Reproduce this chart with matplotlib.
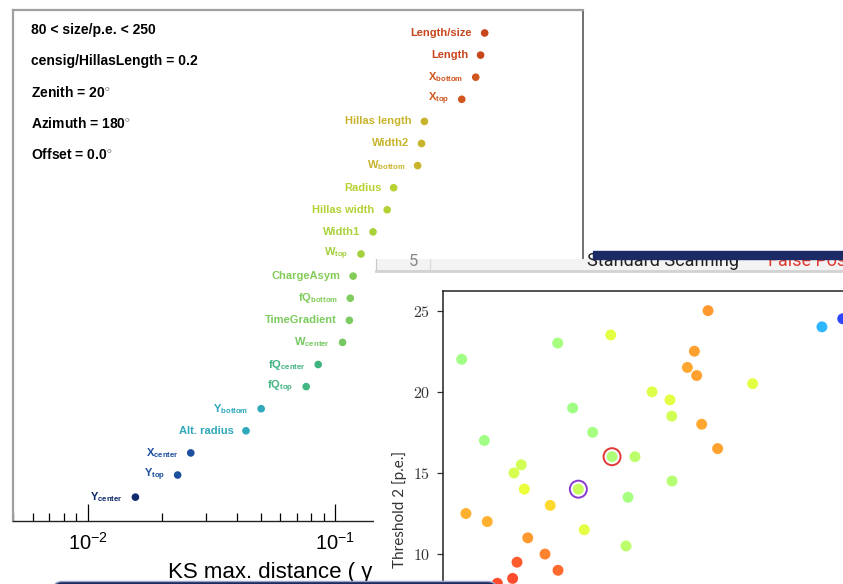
import matplotlib
matplotlib.use('Agg')
import matplotlib.pyplot as plt
from matplotlib.patches import FancyBboxPatch, Rectangle
from matplotlib.transforms import IdentityTransform
from matplotlib.ticker import NullFormatter

plt.rcParams['font.family'] = ['Liberation Sans', 'DejaVu Sans']
plt.rcParams['mathtext.fontset'] = 'custom'
plt.rcParams['mathtext.rm'] = 'Liberation Sans'
plt.rcParams['mathtext.bf'] = 'Liberation Sans:bold'
plt.rcParams['mathtext.default'] = 'rm'

# left panel: KS max distance per image parameter
params = ['Length/size', 'Length', r'X$_{\mathbf{bottom}}$', r'X$_{\mathbf{top}}$',
          'Hillas length', 'Width2', r'W$_{\mathbf{bottom}}$', 'Radius',
          'Hillas width', 'Width1', r'W$_{\mathbf{top}}$', 'ChargeAsym',
          r'fQ$_{\mathbf{bottom}}$', 'TimeGradient', r'W$_{\mathbf{center}}$',
          r'fQ$_{\mathbf{center}}$', r'fQ$_{\mathbf{top}}$', r'Y$_{\mathbf{bottom}}$',
          'Alt. radius', r'X$_{\mathbf{center}}$', r'Y$_{\mathbf{top}}$', r'Y$_{\mathbf{center}}$']
ks_dist = [0.401, 0.386, 0.369, 0.324, 0.229, 0.223, 0.215, 0.172, 0.162, 0.142, 0.127,
           0.118, 0.115, 0.114, 0.107, 0.0853, 0.0763, 0.0502, 0.0436, 0.0261, 0.0231, 0.0156]
param_colors = ['#c8461c', '#c8461c', '#d0561e', '#d0561e',
                '#c8b42a', '#c8b42a', '#c8b42a',
                '#b6d232', '#b2d234', '#aad23a', '#a4d03e',
                '#84cc58', '#80cc5c', '#7ccb5e', '#76c862',
                '#40b480', '#44b684',
                '#2ea8ba', '#2ea8ba',
                '#1c4f9e', '#1c4f9e', '#0e2a6c']
cuts = ['80 < size/p.e. < 250', 'censig/HillasLength = 0.2', r'Zenith = 20$^{\circ}$',
        r'Azimuth = 180$^{\circ}$', r'Offset = 0.0$^{\circ}$']
xticks_main = [0.01, 0.1]
xticklabels_main = [r'$10^{-2}$', r'$10^{-1}$']

# right panel: threshold scan
thr1 = [5.15, 6.54, 11.05, 14.31, 20.29, 19.45, 19.02, 19.59, 23.03, 16.85, 17.95, 18.06,
        19.90, 20.88, 11.97, 13.20, 14.39, 15.80, 18.08, 8.81, 8.36, 9.00, 12.32, 15.37,
        10.59, 5.41, 6.72, 12.68, 9.21, 10.27, 15.25, 8.55, 11.07, 8.28, 7.34, 27.29, 28.57]
thr2 = [22.0, 17.0, 23.0, 23.5, 25.0, 22.5, 21.5, 21.0, 20.5, 20.0, 19.5, 18.5,
        18.0, 16.5, 19.0, 17.5, 16.0, 16.0, 14.5, 15.5, 15.0, 14.0, 14.0, 13.5,
        13.0, 12.5, 12.0, 11.5, 11.0, 10.0, 10.5, 9.5, 9.0, 8.5, 8.2, 24.0, 24.5]
score = [0.52, 0.52, 0.53, 0.62, 0.77, 0.76, 0.75, 0.76, 0.62, 0.61, 0.62, 0.59,
         0.75, 0.76, 0.52, 0.53, 0.54, 0.56, 0.55, 0.59, 0.60, 0.63, 0.58, 0.53,
         0.69, 0.74, 0.74, 0.62, 0.77, 0.80, 0.56, 0.85, 0.83, 0.87, 0.87, 0.29, 0.155]
ring_red = 16
ring_purple = 22
yticks_thr = [10, 15, 20, 25]

W, H = 843, 584
fig = plt.figure(figsize=(W / 100, H / 100), dpi=100)

# ---- main KS chart
ax = fig.add_axes([13 / W, 1 - 521 / H, 570 / W, 511 / H])
ax.scatter(ks_dist, range(len(ks_dist)), s=20, c=param_colors, zorder=3)
for i, (name, v, col) in enumerate(zip(params, ks_dist, param_colors)):
    ax.annotate(name, (v, i), xytext=(-9, 0), textcoords='offset points',
                ha='right', va='center', fontsize=8, fontweight='bold', color=col)
ax.set_xscale('log')
ax.set_xlim(0.005, 1.0)
ax.set_ylim(len(ks_dist) - 1 + 1.08, -1.04)
ax.set_yticks([])
ax.set_xticks(xticks_main, labels=xticklabels_main, fontsize=14.5)
ax.xaxis.set_minor_formatter(NullFormatter())
ax.tick_params(axis='x', which='major', direction='in', length=12, width=0.9, pad=8)
ax.tick_params(axis='x', which='minor', direction='in', length=6, width=0.9)
for s in ['top', 'left']:
    ax.spines[s].set_color('#a0a0a0')
    ax.spines[s].set_linewidth(1.6)
ax.spines['right'].set_color('#707070')
ax.spines['right'].set_linewidth(1.4)
ax.spines['bottom'].set_color('#222222')
ax.spines['bottom'].set_linewidth(1.0)
for k, line in enumerate(cuts):
    ax.text(0.0316, 0.953 - k * 0.0612, line, transform=ax.transAxes,
            fontsize=10, fontweight='bold', va='baseline', ha='left')
ax.text(168 / W, 1 - 578 / H, 'KS max. distance ( γ - hadron )', transform=fig.transFigure,
        fontsize=16, ha='left', va='baseline', clip_on=False)

# ---- white screenshot overlay
ov = fig.add_axes([374 / W, 0, (W - 374) / W, (H - 259) / H], zorder=5)
ov.set_facecolor('white')
ov.set_xticks([])
ov.set_yticks([])
for s in ov.spines.values():
    s.set_visible(False)

# table strip (text cut by the strip edges)
st = fig.add_axes([376 / W, 1 - 271 / H, (W - 376) / W, 12 / H], zorder=6)
st.set_facecolor('#f3f3f3')
st.set_xlim(0, W - 376)
st.set_ylim(12, 0)
st.set_xticks([])
st.set_yticks([])
st.spines['top'].set_visible(False)
st.spines['right'].set_visible(False)
st.spines['left'].set_color('#c8c8c8')
st.spines['bottom'].set_color('#d2d2d2')
st.spines['bottom'].set_linewidth(2)
st.axvline(54, color='#dcdcdc', lw=1)
strip_texts = [
    st.text(37, 7.5, '5', fontsize=12, color='#888888', family='Roboto', va='baseline', ha='center'),
    st.text(211, 7.5, 'Standard Scanning', fontsize=13, color='#202020', family='Roboto', va='baseline'),
    st.text(392, 7.5, 'False Positives', fontsize=13, color='#e03a30', family='Roboto', va='baseline'),
]
for t in strip_texts:
    t.set_clip_path(st.patch)
fig.add_artist(Rectangle((593 / W, 1 - 258.7 / H), (W - 593) / W, 7.7 / H,
                         transform=fig.transFigure, color='#1c2a66', zorder=7))

# ---- threshold scatter
sc = fig.add_axes([443 / W, 0, (W - 443) / W, 293 / H], zorder=8)
sc.patch.set_alpha(0)
sc.scatter(thr1, thr2, c=score, cmap='jet', vmin=0, vmax=1, s=62, alpha=0.82,
           edgecolors='none', zorder=3)
sc.scatter([thr1[ring_red]], [thr2[ring_red]], s=150, facecolors='none',
           edgecolors='#e03838', linewidths=1.4, zorder=4)
sc.scatter([thr1[ring_purple]], [thr2[ring_purple]], s=150, facecolors='none',
           edgecolors='#8a3ad0', linewidths=1.4, zorder=4)
sc.set_xlim(4, 28.585)
sc.set_ylim(8.156, 26.21)
sc.set_xticks([])
sc.set_yticks(yticks_thr, labels=['$%d$' % v for v in yticks_thr],
              math_fontfamily='cm', fontsize=11.5, color='#333333')
sc.tick_params(axis='y', direction='out', length=4, width=0.9, pad=5, color='#333333')
sc.spines['right'].set_visible(False)
sc.spines['bottom'].set_visible(False)
sc.spines['left'].set_linewidth(1.1)
sc.spines['top'].set_linewidth(1.1)
sc.spines['left'].set_color('#222222')
sc.spines['top'].set_color('#222222')
sc.text(-0.1075, 0.2526, 'Threshold 2 [p.e.]', rotation=90, ha='center', va='center',
        transform=sc.transAxes, fontsize=11, family='Lato', color='#333333')

# navy slide footer
fig.add_artist(FancyBboxPatch((53, -20), 444, 22.5, boxstyle='round,pad=0,rounding_size=9',
                              transform=IdentityTransform(), fc='#1d2a5c', ec='#9aa6cc',
                              lw=1, zorder=20))

fig.savefig('out.png', dpi=100)
